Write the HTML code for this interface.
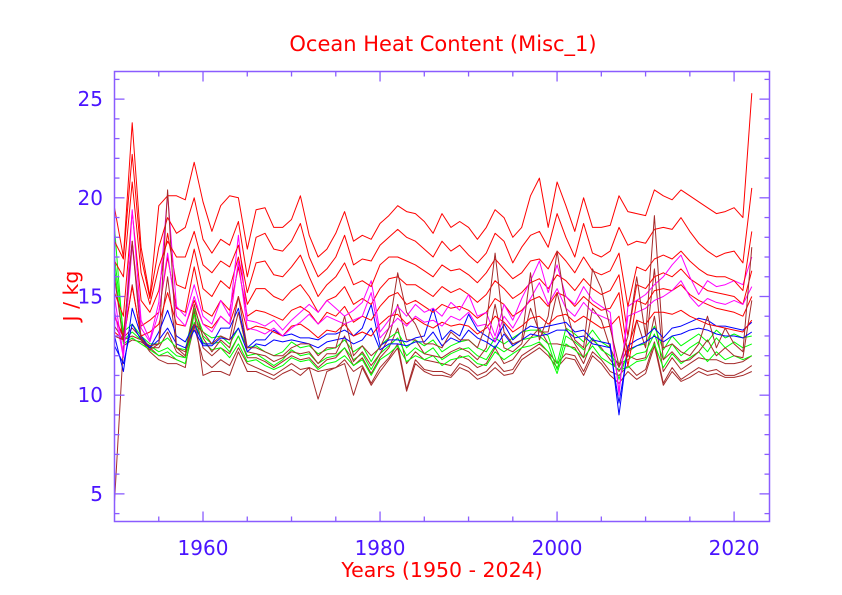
<!DOCTYPE html>
<html><head><meta charset="utf-8"><style>
html,body{margin:0;padding:0;background:#fff;}
svg{display:block;font-family:"DejaVu Sans","Liberation Sans",sans-serif;}
</style></head><body>
<svg id="chart" width="842" height="595" viewBox="0 0 842 595" xmlns="http://www.w3.org/2000/svg">
<text x="443" y="51" text-anchor="middle" font-size="21" fill="#ff0000">Ocean Heat Content (Misc_1)</text>
<text x="442" y="577" text-anchor="middle" font-size="20.5" fill="#ff0000">Years (1950 - 2024)</text>
<text x="0" y="0" transform="translate(78,296) rotate(-90)" text-anchor="middle" font-size="20.5" fill="#ff0000">J / kg</text>
<g id="series"></g>
<g id="axes"></g>
</svg>
<script>
const startYear = 1950;
const xTicks = [1960, 1980, 2000, 2020];
const yTicks = [5, 10, 15, 20, 25];
const r1 = [19.5,17.0,23.8,17.5,15.0,19.6,20.1,20.1,19.9,21.8, 19.8,18.3,19.6,20.1,20.0,17.4,19.4,19.5,18.5,18.5, 18.9,20.1,18.1,17.0,17.4,18.2,19.3,17.8,18.1,17.9, 18.7,19.1,19.6,19.3,19.2,18.8,18.2,19.2,18.5,18.8, 18.5,17.9,18.5,19.4,19.0,18.0,18.5,20.1,21.0,18.5, 20.8,19.6,18.3,20.0,18.5,18.5,18.6,20.1,19.3,19.2, 19.1,20.4,20.1,19.9,20.4,20.1,19.8,19.5,19.2,19.3, 19.5,19.0,25.3];
const r2 = [17.8,16.9,22.2,17.0,14.9,17.5,19.0,18.2,18.5,20.0, 17.9,17.2,17.9,17.6,18.8,16.0,18.0,18.2,17.4,17.3, 17.8,18.7,17.0,16.0,16.4,17.0,18.1,16.6,16.9,16.8, 17.6,18.0,18.4,18.0,17.8,17.4,17.0,17.8,17.3,17.6, 17.1,16.7,17.2,18.2,17.8,16.7,17.5,18.1,18.3,17.5, 19.2,18.0,17.0,18.7,17.2,17.0,17.3,18.5,17.6,17.8, 17.7,18.4,18.5,18.4,19.0,18.3,17.7,17.3,17.0,17.2, 17.3,16.7,20.5];
const r3 = [16.8,16.0,20.8,16.2,14.6,16.5,17.8,17.0,17.0,18.3, 16.6,16.2,16.8,16.5,17.6,15.2,16.7,16.8,16.1,16.0, 16.5,17.1,16.0,15.0,15.6,16.0,16.7,15.6,15.8,15.5, 16.6,17.0,17.0,16.8,16.6,16.3,16.0,16.6,16.3,16.4, 16.1,15.7,16.2,16.9,16.4,15.9,16.2,16.8,16.9,16.4, 17.3,16.8,16.2,17.0,16.3,16.1,16.3,17.2,14.5,16.5, 16.3,16.9,17.1,16.9,17.3,16.8,16.4,16.1,16.0,16.0, 15.8,15.3,18.3];
const r4 = [14.0,13.0,17.8,13.5,13.8,14.2,17.0,14.4,14.2,16.5, 14.3,14.0,14.8,14.3,16.5,14.0,14.3,14.2,14.0,13.8, 14.3,14.5,14.2,13.6,14.2,14.0,14.5,13.7,14.0,13.8, 14.5,15.0,15.2,14.6,14.8,14.5,14.2,14.6,14.4,14.5, 14.3,13.9,14.2,14.9,14.6,14.0,14.3,14.8,15.0,14.5, 15.2,15.0,14.5,15.0,14.6,14.3,14.4,15.2,12.0,14.8, 14.6,15.3,15.4,15.3,15.6,15.1,14.8,14.6,14.4,14.3, 14.2,14.0,15.0];
const r5 = [13.2,12.8,15.5,13.0,13.2,13.6,15.2,13.6,13.5,14.8, 13.6,13.4,14.0,13.6,15.0,13.3,13.5,13.4,13.2,13.0, 13.5,13.6,13.3,12.9,13.3,13.2,13.6,13.0,13.2,13.0, 13.6,14.0,14.1,13.6,13.9,13.6,13.4,13.7,13.5,13.6, 13.5,13.1,13.4,14.0,13.7,13.2,13.5,13.9,14.0,13.6, 14.0,14.1,13.7,14.0,13.7,13.4,13.5,14.0,11.5,13.8, 13.6,14.2,14.2,14.1,14.3,14.0,13.8,13.6,13.5,13.4, 13.3,13.2,13.8];
const r6 = [15.2,14.0,19.3,14.8,14.2,15.3,18.2,15.6,15.4,17.4, 15.4,15.0,15.8,15.4,17.0,14.6,15.4,15.4,15.0,14.8, 15.3,15.6,15.0,14.2,14.8,15.0,15.5,14.6,14.9,14.6, 15.4,15.9,16.0,15.6,15.6,15.3,15.0,15.5,15.2,15.4, 15.1,14.7,15.1,15.8,15.4,14.9,15.2,15.7,15.9,15.4, 16.1,15.8,15.3,15.9,15.4,15.1,15.3,16.1,13.0,15.6, 15.4,16.0,16.2,16.0,16.4,15.9,15.6,15.3,15.2,15.1, 15.0,14.6,16.3];
const m1 = [15.0,12.0,19.4,13.8,12.8,14.7,20.2,14.5,14.0,15.6, 14.0,13.6,14.8,14.0,18.1,13.8,13.7,13.5,13.8,13.3, 13.8,14.2,14.6,14.2,14.8,14.4,14.0,14.3,14.7,15.8, 13.2,13.8,14.5,14.0,14.6,14.2,14.4,14.0,14.7,14.3, 15.1,14.0,14.2,13.0,14.6,13.8,14.9,15.8,16.8,15.2, 16.6,15.0,14.6,15.5,14.8,14.5,14.2,10.0,14.5,14.8, 15.1,15.6,16.0,16.6,17.1,16.0,15.1,15.8,15.5,15.6, 15.8,15.6,17.0];
const m2 = [14.3,11.9,17.6,13.4,12.7,14.2,17.2,14.0,13.5,15.0, 13.6,13.2,14.0,13.6,16.8,13.4,13.3,13.1,13.4,13.0, 13.4,13.7,14.1,13.6,14.0,13.8,13.6,13.8,14.0,15.2, 12.9,13.4,13.9,13.5,14.0,13.7,13.8,13.5,14.0,13.8, 14.2,13.5,13.6,12.7,14.0,13.4,14.2,14.9,15.7,14.6, 15.4,14.4,14.0,14.7,14.2,14.0,13.8,10.2,14.0,14.2, 14.4,14.8,15.0,15.3,15.8,15.0,14.5,14.9,14.7,14.6, 14.8,14.6,15.5];
const b1 = [13.0,11.2,14.4,13.0,12.4,13.2,14.3,13.0,12.7,13.6, 12.6,12.6,13.4,13.4,14.4,12.4,12.8,12.8,13.3,13.0, 13.1,12.9,12.9,12.8,13.1,13.1,13.3,13.0,13.4,14.6, 12.5,12.8,12.8,12.7,12.9,13.0,14.4,12.8,13.3,13.0, 14.1,13.3,13.0,12.7,13.6,12.8,13.2,13.5,13.4,13.5, 13.6,13.7,13.2,13.3,12.8,12.7,12.6,9.0,12.5,12.8, 13.0,13.4,12.9,13.4,13.5,13.7,13.9,13.8,13.5,13.5, 13.4,13.3,13.7];
const b2 = [12.5,11.6,13.6,12.8,12.4,12.8,13.4,12.6,12.4,13.3, 12.5,12.5,12.9,12.8,13.4,12.2,12.6,12.5,12.8,12.7, 12.8,12.7,12.6,12.4,12.7,12.8,12.9,12.6,12.8,13.4, 12.3,12.6,12.6,12.5,12.7,12.7,13.2,12.5,12.9,12.7, 13.3,12.9,12.7,12.4,13.1,12.5,12.8,13.1,13.0,13.1, 13.3,13.3,12.9,13.0,12.6,12.5,12.4,9.6,12.3,12.5, 12.7,13.0,12.7,13.0,13.1,13.3,13.4,13.3,13.1,13.0, 13.0,12.9,13.2];
const g1 = [18.5,12.8,13.2,12.8,12.5,12.2,12.4,12.0,11.9,14.1, 13.0,12.6,12.7,12.2,13.0,12.0,12.1,11.8,11.5,11.8, 12.3,12.0,12.1,11.6,11.9,12.0,12.4,11.8,12.1,11.3, 12.1,12.5,12.9,12.0,12.4,12.1,12.4,11.8,12.1,12.3, 12.4,12.0,11.8,12.5,12.2,12.5,12.8,12.9,13.0,12.6, 11.3,13.0,12.7,12.3,12.9,12.3,12.0,11.6,11.8,12.1, 12.2,13.1,11.8,12.6,12.0,12.4,12.7,12.2,12.9,12.4, 12.7,12.4,12.6];
const g2 = [16.5,12.6,12.9,12.6,12.3,12.0,12.2,11.8,11.6,13.7, 12.7,12.3,12.4,11.9,12.6,11.7,11.8,11.5,11.3,11.5, 11.9,11.7,11.8,11.3,11.6,11.7,12.0,11.5,11.8,11.0, 11.8,12.1,12.5,11.7,12.0,11.8,12.0,11.5,11.8,11.9, 12.0,11.6,11.5,12.2,11.8,12.1,12.4,12.5,12.7,12.2, 11.1,12.6,12.3,11.9,12.5,11.9,11.6,11.3,11.4,11.7, 11.8,12.6,11.4,12.1,11.6,11.9,12.2,11.7,12.2,11.8, 12.0,11.8,12.0];
const g3 = [17.0,13.2,13.6,13.0,12.6,12.6,12.9,12.4,12.3,14.4, 13.2,12.9,13.0,12.6,13.4,12.4,12.5,12.2,12.0,12.2, 12.7,12.4,12.5,12.1,12.3,12.4,12.8,12.2,12.5,11.7, 12.5,12.9,13.2,12.4,12.8,12.5,12.8,12.2,12.5,12.7, 12.8,12.4,12.2,12.9,12.6,12.9,13.2,13.3,13.3,13.0, 11.6,13.4,13.1,12.7,13.3,12.7,12.4,10.8,12.2,12.5, 12.6,13.5,12.3,13.0,12.5,12.8,13.1,12.7,13.3,12.9, 13.1,12.9,13.0];
const br1 = [4.6,12.5,12.8,12.7,12.4,12.0,12.0,11.8,11.6,13.5, 11.8,11.4,11.8,11.5,12.4,11.6,11.4,11.2,11.0,11.3, 11.6,11.3,11.4,11.2,11.3,11.4,11.8,11.2,11.5,10.6, 11.4,11.9,12.6,10.3,11.8,11.3,11.2,11.2,11.0,11.6, 11.4,11.0,11.2,11.7,11.2,11.3,12.0,12.3,12.6,12.2, 11.6,12.1,12.0,11.2,12.2,11.8,11.2,11.0,11.5,11.0, 11.3,12.7,10.6,11.4,10.8,11.1,11.4,11.2,11.3,11.0, 11.0,11.2,11.5];
const br2 = [13.0,12.8,17.8,12.8,12.5,12.6,20.4,12.4,12.2,13.6, 13.2,12.6,13.0,12.8,15.0,12.4,12.4,12.2,12.0,12.0, 12.4,12.6,12.6,12.0,12.4,12.4,14.0,12.0,12.5,12.0, 12.4,13.4,16.2,14.2,13.6,12.6,12.6,12.4,13.2,12.8, 12.8,12.4,13.6,17.2,13.2,12.6,12.8,16.2,12.8,14.0, 17.3,14.4,12.8,12.4,16.4,15.4,13.4,11.5,13.0,16.0, 13.0,19.1,12.4,12.6,12.2,12.0,12.6,14.0,12.4,13.4, 12.6,12.2,17.5];
const br3 = [13.5,12.8,13.0,12.8,12.2,11.8,11.6,11.6,11.4,14.2, 11.0,11.2,11.2,11.0,12.2,11.2,11.2,11.0,10.8,11.1, 11.3,11.0,11.4,9.8,11.2,11.4,11.6,10.0,11.4,10.5, 11.2,11.8,12.4,10.2,11.6,11.2,11.0,11.0,10.9,11.4, 11.2,10.8,11.0,11.4,11.0,11.1,11.8,12.1,12.4,12.0, 11.4,11.9,11.8,11.0,12.0,11.6,11.0,10.6,11.2,10.8, 11.1,12.5,10.5,11.2,10.7,10.9,11.2,11.0,11.1,10.9, 10.9,11.0,11.2];
const br4 = [14.0,12.9,13.4,12.9,12.4,12.4,13.2,12.2,11.9,14.3, 12.4,12.0,12.4,12.1,13.0,11.9,11.9,11.7,11.4,11.7, 12.0,11.8,11.9,11.4,11.8,11.9,12.4,11.5,11.9,11.1, 11.9,12.4,13.4,11.6,12.2,11.8,11.7,11.6,11.5,12.0, 11.8,11.4,11.6,12.4,11.6,11.8,12.4,12.9,13.4,12.6, 12.6,12.5,12.4,11.6,12.8,12.4,11.8,11.2,12.0,11.8, 11.9,14.0,11.2,11.9,11.3,11.6,11.9,11.8,11.8,11.6, 11.6,11.7,12.0];
const br5 = [16.0,12.7,15.6,12.9,12.3,12.6,16.0,12.4,12.0,14.6, 12.9,12.2,12.8,12.4,14.2,12.2,12.1,12.0,11.7,11.9, 12.2,12.1,12.2,11.6,12.1,12.1,13.0,11.7,12.2,11.5, 12.1,12.9,14.6,12.8,12.8,12.1,12.0,11.9,12.2,12.4, 12.2,11.8,12.4,14.6,12.4,12.2,12.6,14.4,13.2,13.2, 15.2,13.4,12.6,11.9,14.4,13.8,12.4,11.4,12.4,13.8, 12.4,16.4,11.8,12.2,11.7,11.8,12.2,12.8,12.0,12.4, 12.0,11.9,14.8];

const seriesList = [
  ['brown-series-1', br1, '#a52a2a'], ['brown-series-3', br3, '#a52a2a'], ['brown-series-4', br4, '#a52a2a'],
  ['green-series-2', g2, '#00ff00'], ['green-series-1', g1, '#00ff00'], ['green-series-3', g3, '#00ff00'],
  ['brown-series-5', br5, '#a52a2a'],
  ['blue-series-2', b2, '#0000ff'], ['blue-series-1', b1, '#0000ff'],
  ['red-series-5', r5, '#ff0000'], ['red-series-4', r4, '#ff0000'], ['red-series-6', r6, '#ff0000'],
  ['magenta-series-2', m2, '#ff00ff'], ['magenta-series-1', m1, '#ff00ff'],
  ['red-series-3', r3, '#ff0000'], ['red-series-2', r2, '#ff0000'], ['red-series-1', r1, '#ff0000'],
  ['brown-series-2', br2, '#a52a2a']
];

const NS = 'http://www.w3.org/2000/svg';
const X0 = 114.5, X1 = 769.5, Y0 = 521.5, Y1 = 71.5;
const xMin = 1950, xMax = 2024, yMin = 3.6, yMax = 26.4;
function xs(v){ return X0 + (v - xMin) / (xMax - xMin) * (X1 - X0); }
function ys(v){ return Y0 - (v - yMin) / (yMax - yMin) * (Y0 - Y1); }

const sg = document.getElementById('series');
seriesList.forEach(function(s){
  const pts = s[1].map(function(v, i){ return xs(startYear + i).toFixed(1) + ',' + ys(v).toFixed(1); }).join(' ');
  const pl = document.createElementNS(NS, 'polyline');
  pl.setAttribute('points', pts);
  pl.setAttribute('fill', 'none');
  pl.setAttribute('stroke', s[2]);
  pl.setAttribute('stroke-width', '1');
  pl.setAttribute('stroke-linejoin', 'round');
  
  
  sg.appendChild(pl);
});

const ag = document.getElementById('axes');
const axisColor = '#8a5cff';
function line(x1, y1, x2, y2, name){
  const l = document.createElementNS(NS, 'line');
  l.setAttribute('x1', x1); l.setAttribute('y1', y1); l.setAttribute('x2', x2); l.setAttribute('y2', y2);
  l.setAttribute('stroke', axisColor); l.setAttribute('stroke-width', '1.3');
  
  
  ag.appendChild(l);
}
const frame = document.createElementNS(NS, 'rect');
frame.setAttribute('x', X0); frame.setAttribute('y', Y1);
frame.setAttribute('width', X1 - X0); frame.setAttribute('height', Y0 - Y1);
frame.setAttribute('fill', 'none'); frame.setAttribute('stroke', axisColor); frame.setAttribute('stroke-width', '1.5');


ag.appendChild(frame);

for (let yr = 1955; yr < 2024; yr += 5){
  const len = (yr % 20 === 0) ? 10 : 5;
  const x = xs(yr);
  line(x, Y0, x, Y0 - len, 'x-tick-bottom');
  line(x, Y1, x, Y1 + len, 'x-tick-top');
}
for (let v = 4; v <= 26; v++){
  const len = (v % 5 === 0) ? 10 : 5;
  const y = ys(v);
  line(X0, y, X0 + len, y, 'y-tick-left');
  line(X1, y, X1 - len, y, 'y-tick-right');
}
xTicks.forEach(function(t){
  const tx = document.createElementNS(NS, 'text');
  tx.setAttribute('x', xs(t)); tx.setAttribute('y', 555);
  tx.setAttribute('text-anchor', 'middle'); tx.setAttribute('font-size', '20'); tx.setAttribute('fill', '#4a14ff');
  tx.textContent = t;
  
  
  ag.appendChild(tx);
});
yTicks.forEach(function(t){
  const tx = document.createElementNS(NS, 'text');
  tx.setAttribute('x', 103); tx.setAttribute('y', ys(t) + 7);
  tx.setAttribute('text-anchor', 'end'); tx.setAttribute('font-size', '20'); tx.setAttribute('fill', '#4a14ff');
  tx.textContent = t;
  
  
  ag.appendChild(tx);
});
</script>
</body></html>
